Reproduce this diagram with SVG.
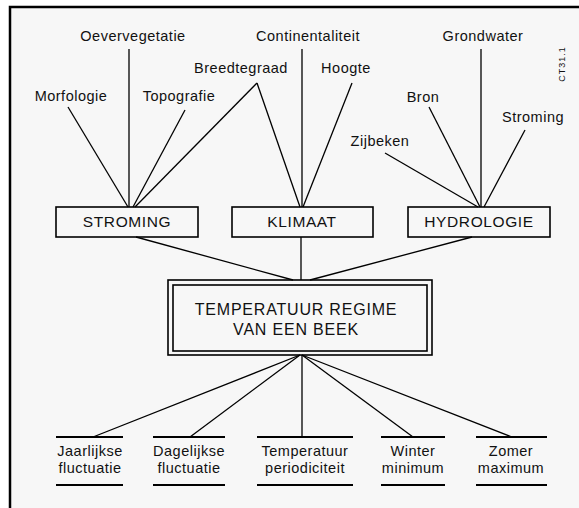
<svg xmlns="http://www.w3.org/2000/svg" width="579" height="508" viewBox="0 0 579 508">
<style>
.t{font-family:"Liberation Sans",Arial,sans-serif;font-size:14.5px;fill:#111;text-anchor:middle;letter-spacing:0.5px}
.b{font-family:"Liberation Sans",Arial,sans-serif;font-size:15.5px;fill:#111;text-anchor:middle;letter-spacing:0.6px}
.m{font-family:"Liberation Sans",Arial,sans-serif;font-size:16px;fill:#111;text-anchor:middle;letter-spacing:0.8px}
.box{fill:none;stroke:#000;stroke-width:1.6}
.ln{stroke:#000;stroke-width:1.3;fill:none}
.ul{stroke:#000;stroke-width:1.8}
</style>
<rect x="0" y="0" width="579" height="508" fill="#ffffff"/>
<rect x="10" y="7" width="600" height="520" fill="#f7f7f7" stroke="#000" stroke-width="2.5"/>
<g id="connectors" class="ln">
<line x1="129" y1="49" x2="129" y2="207"/>
<line x1="68" y1="107" x2="128" y2="207"/>
<line x1="185" y1="110" x2="133" y2="207"/>
<line x1="257" y1="83" x2="135" y2="207"/>
<line x1="302" y1="49" x2="302" y2="207"/>
<line x1="257" y1="83" x2="300" y2="207"/>
<line x1="352" y1="83" x2="303" y2="207"/>
<line x1="481" y1="49" x2="481" y2="207"/>
<line x1="385" y1="153" x2="478" y2="207"/>
<line x1="429" y1="107" x2="480" y2="207"/>
<line x1="525" y1="130" x2="484" y2="207"/>
<line x1="136" y1="237" x2="293" y2="280"/>
<line x1="301" y1="237" x2="301" y2="280"/>
<line x1="472" y1="237" x2="310" y2="280"/>
<line x1="300" y1="355" x2="93" y2="437"/>
<line x1="300" y1="355" x2="190" y2="437"/>
<line x1="302" y1="355" x2="302" y2="437"/>
<line x1="302" y1="355" x2="413" y2="437"/>
<line x1="302" y1="355" x2="512" y2="437"/>
</g>
<g id="n-oevervegetatie"><text class="t" x="133" y="41">Oevervegetatie</text></g>
<g id="n-continentaliteit"><text class="t" x="308" y="41">Continentaliteit</text></g>
<g id="n-grondwater"><text class="t" x="483" y="41">Grondwater</text></g>
<g id="n-breedtegraad"><text class="t" x="241" y="73">Breedtegraad</text></g>
<g id="n-hoogte"><text class="t" x="346" y="73">Hoogte</text></g>
<g id="n-morfologie"><text class="t" x="71" y="101">Morfologie</text></g>
<g id="n-topografie"><text class="t" x="179" y="101">Topografie</text></g>
<g id="n-bron"><text class="t" x="423" y="102">Bron</text></g>
<g id="n-stroming-small"><text class="t" x="533" y="122">Stroming</text></g>
<g id="n-zijbeken"><text class="t" x="380" y="146">Zijbeken</text></g>
<g id="n-code"><text class="t" style="font-size:9px;letter-spacing:1px" transform="translate(562,64) rotate(-90)" y="3">CT31.1</text></g>
<g id="n-stroming"><rect class="box" x="56" y="207" width="142" height="30"/><text class="b" x="127" y="227">STROMING</text></g>
<g id="n-klimaat"><rect class="box" x="232" y="207" width="141" height="30"/><text class="b" x="302" y="227">KLIMAAT</text></g>
<g id="n-hydrologie"><rect class="box" x="408" y="207" width="142" height="30"/><text class="b" x="479" y="227">HYDROLOGIE</text></g>
<g id="n-regime">
<rect class="box" x="168" y="280" width="264" height="75"/>
<rect class="box" x="173" y="285" width="254" height="66"/>
<text class="m" x="296" y="315">TEMPERATUUR REGIME</text>
<text class="m" x="296" y="335">VAN EEN BEEK</text>
</g>
<g id="n-jaarlijkse"><line class="ul" x1="56" y1="437" x2="123" y2="437"/><line class="ul" x1="56" y1="485" x2="123" y2="485"/><text class="t" x="90" y="456">Jaarlijkse</text><text class="t" x="90" y="473">fluctuatie</text></g>
<g id="n-dagelijkse"><line class="ul" x1="153" y1="437" x2="225" y2="437"/><line class="ul" x1="153" y1="485" x2="225" y2="485"/><text class="t" x="189" y="456">Dagelijkse</text><text class="t" x="189" y="473">fluctuatie</text></g>
<g id="n-periodiciteit"><line class="ul" x1="257" y1="437" x2="353" y2="437"/><line class="ul" x1="257" y1="485" x2="353" y2="485"/><text class="t" x="305" y="456">Temperatuur</text><text class="t" x="305" y="473">periodiciteit</text></g>
<g id="n-winter"><line class="ul" x1="381" y1="437" x2="445" y2="437"/><line class="ul" x1="381" y1="485" x2="445" y2="485"/><text class="t" x="413" y="456">Winter</text><text class="t" x="413" y="473">minimum</text></g>
<g id="n-zomer"><line class="ul" x1="476" y1="437" x2="547" y2="437"/><line class="ul" x1="476" y1="485" x2="547" y2="485"/><text class="t" x="511" y="456">Zomer</text><text class="t" x="511" y="473">maximum</text></g>
</svg>
